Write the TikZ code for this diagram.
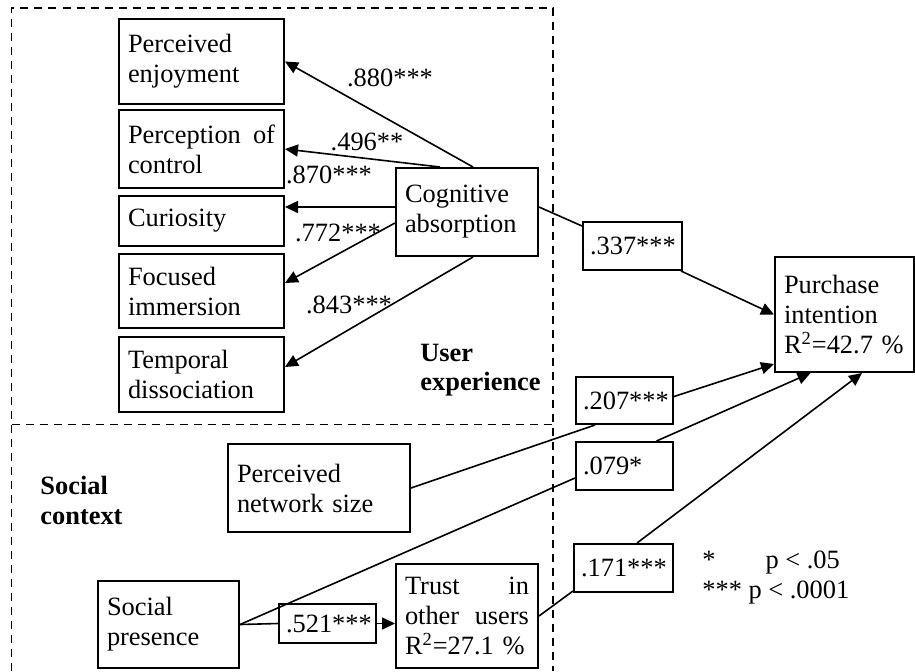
\documentclass[tikz,border=0pt]{standalone}
\usepackage{fontspec}
\setmainfont{Liberation Serif}
\usetikzlibrary{arrows.meta}
\tikzset{
	box/.style={draw, line width=1pt, inner xsep=4.5pt, inner ysep=0pt, align=left},
	coef/.style={draw, line width=1pt, inner xsep=3.5pt, inner ysep=0pt, align=left},
	area/.style={anchor=west, inner sep=0pt, align=left, font=\fontsize{13.2}{14.5}\selectfont\bfseries},
	link/.style={line width=0.8pt},
	effect/.style={link, -{Triangle[length=6.5pt,width=6pt]}}
}

\begin{document}
\begin{tikzpicture}[x=0.5pt, y=-0.5pt, every node/.style={font=\fontsize{13.2}{15}\selectfont}]

			\useasboundingbox (0,0) rectangle (915,671);

			% Define the two areas
			\draw[dashed, line width=0.75pt, dash pattern=on 4pt off 3pt] (11.5,671) -- (11.5,8) -- (553,8) -- (553,671);
			\draw[dashed, line width=0.75pt, dash pattern=on 4pt off 3pt] (11.5,424.5) -- (553,424.5);

			% Dimensions of cognitive absorption
			\node[box, text width=73.5pt, minimum height=42.5pt] (pe) at (201.5,61.5) {Perceived\\enjoyment};
			\node[box, text width=73.5pt, minimum height=39pt] (poc) at (201.5,149) {Perception\hfill of\\control};
			\node[box, text width=73.5pt, minimum height=25pt] (cur) at (201.5,221) {Curiosity};
			\node[box, text width=73.5pt, minimum height=37pt] (foc) at (201.5,291) {Focused\\immersion};
			\node[box, text width=73.5pt, minimum height=37.5pt] (tem) at (201.5,374.5) {Temporal\\dissociation};
			\node[box, text width=62pt, minimum height=44pt] (cog) at (467,212) {Cognitive\\absorption};

			% Social context
			\node[box, text width=82pt, minimum height=44pt] (pns) at (319,488) {Perceived\\network size};
			\node[box, text width=61.5pt, minimum height=43.5pt] (sp) at (168.5,624.5) {Social\\presence};
			\node[box, text width=62pt, minimum height=52pt] (trust) at (467,616) {Trust\hfill in\\other\hfill users\\R\textsuperscript{2}=27.1 \%};
			\node[box, text width=60.5pt, minimum height=57.5pt] (pi) at (844.5,314.5) {Purchase\\intention\\R\textsuperscript{2}=42.7 \%};

			% Path coefficients in boxes
			\node[coef, text width=42.5pt, minimum height=24pt] (c337) at (632.5,246) {.337***};
			\node[coef, text width=41.5pt, minimum height=23.5pt] (c207) at (624.5,400.5) {.207***};
			\node[coef, text width=41.5pt, minimum height=24pt] (c079) at (624.5,466) {.079*};
			\node[coef, text width=42.5pt, minimum height=24pt] (c171) at (623.5,568) {.171***};
			\node[coef, text width=41.5pt, minimum height=19.5pt] (c521) at (327.5,623.5) {.521***};

			% Loadings
			\node (l880) at (390,78) {.880***};
			\node (l496) at (367,142) {.496**};
			\node (l870) at (329,175) {.870***};
			\node (l772) at (338,233) {.772***};
			\node (l843) at (349,305) {.843***};

			\node[area] (ux) at (420,370) {User\\experience};
			\node[area, font=\fontsize{13.2}{15}\selectfont\bfseries] (sc) at (40,500) {Social\\context};

			\draw[effect] ([xshift=3pt]cog.north) -- (pe.east);
			\draw[effect] ([xshift=-13.5pt]cog.north) -- (poc.east);
			\draw[effect] ([yshift=2.5pt]cog.west) -- ([yshift=2.5pt]cog.west -| cur.east);
			\draw[effect] ([yshift=-5.5pt]cog.west) -- ([yshift=4pt]foc.east);
			\draw[effect] ([xshift=3pt]cog.south) -- ([yshift=3.75pt]tem.east);

			% Paths to purchase intention
			\draw[link] ([yshift=2.5pt]cog.east) -- ([yshift=-2.5pt]c337.north west);
			\draw[effect] ([xshift=-1pt]c337.south east) -- (pi.west);
			\draw[link] (pns.east) -- ([xshift=-14.75pt]c207.south);
			\draw[effect] ([yshift=2pt]c207.east) -- ([yshift=4.5pt]pi.south west);
			\draw[link] (sp.east) -- ([yshift=-6pt]c079.west);
			\draw[effect] ([xshift=16pt]c079.north) -- ([xshift=-17pt]pi.south);
			\draw[link] (sp.east) -- (c521.west);
			\draw[effect] (c521.east) -- (c521.east -| trust.west);
			\draw[link] (trust.east) -- ([yshift=1pt]c171.south west);
			\draw[effect] ([xshift=6.75pt]c171.north) -- ([xshift=8.75pt]pi.south);

			% Legend
			\node[anchor=west, inner sep=0pt] (sig1) at (702,563) {*\hskip 25pt p < .05};
			\node[anchor=west, inner sep=0pt] (sig2) at (702,593) {*** p < .0001};

		\end{tikzpicture}
\end{document}
